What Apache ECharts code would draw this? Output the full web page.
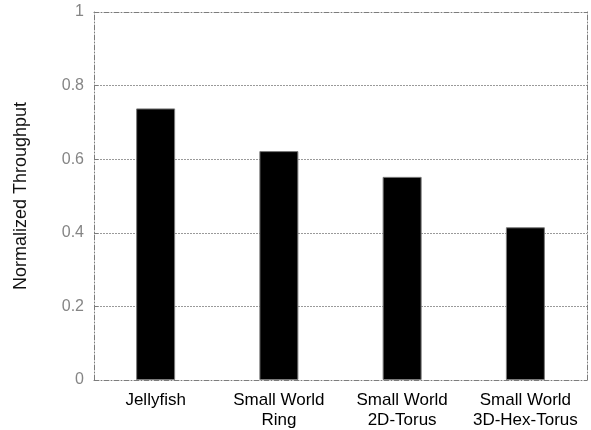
<!DOCTYPE html>
<html>
<head>
<meta charset="utf-8">
<script src="https://cdn.jsdelivr.net/npm/echarts@6/dist/echarts.min.js"></script>
<style>
  html, body { margin: 0; padding: 0; background: #fff; }
  #chart { width: 591px; height: 430px; }
</style>
</head>
<body>
<div id="chart"></div>
<script>
// Normalized throughput per topology
const categories = ['Jellyfish', 'Small World\nRing', 'Small World\n2D-Torus', 'Small World\n3D-Hex-Torus'];
const throughput = [0.738, 0.622, 0.552, 0.415];
const yTicks = { min: 0, max: 1, interval: 0.2 };

const FONT = 'Liberation Sans, Arial, Helvetica, sans-serif';
const frameStyle = { color: '#7c7c7c', width: 1, type: [5, 2, 1, 2] };

const chart = echarts.init(document.getElementById('chart'), null, { renderer: 'canvas' });
chart.setOption({
  animation: false,
  backgroundColor: '#fff',
  grid: { left: 94, right: 4, top: 12, bottom: 47, containLabel: false },
  xAxis: [
    {
      type: 'category',
      data: categories,
      position: 'bottom',
      axisLine: { show: true, lineStyle: frameStyle },
      axisTick: { show: false },
      axisLabel: {
        color: '#000', fontFamily: FONT, fontSize: 17, lineHeight: 20,
        margin: 10, interval: 0
      },
      splitLine: { show: false }
    },
    {
      type: 'category',
      data: categories,
      position: 'top',
      axisLine: { show: true, onZero: false, lineStyle: frameStyle },
      axisTick: { show: false },
      axisLabel: { show: false },
      splitLine: { show: false }
    }
  ],
  yAxis: [
    {
      type: 'value',
      min: yTicks.min, max: yTicks.max, interval: yTicks.interval,
      position: 'left',
      name: 'Normalized Throughput',
      nameLocation: 'middle',
      nameGap: 64,
      nameTextStyle: { color: '#111', fontFamily: FONT, fontSize: 18 },
      axisLine: { show: true, lineStyle: frameStyle },
      axisTick: { show: true, inside: true, length: 4, lineStyle: { color: '#7c7c7c' } },
      axisLabel: {
        color: '#858585', fontFamily: FONT, fontSize: 16, margin: 10,
        formatter: v => String(+v.toFixed(1))
      },
      splitLine: {
        show: true, showMinLine: false, showMaxLine: false,
        lineStyle: { color: '#9a9a9a', width: 1, type: [2, 1] }
      }
    },
    {
      type: 'value',
      min: yTicks.min, max: yTicks.max, interval: yTicks.interval,
      position: 'right',
      axisLine: { show: true, onZero: false, lineStyle: frameStyle },
      axisTick: { show: false },
      axisLabel: { show: false },
      splitLine: { show: false }
    }
  ],
  series: [
    {
      type: 'bar',
      data: throughput,
      barWidth: 39,
      itemStyle: { color: '#000', borderColor: '#7a7a7a', borderWidth: 1 },
      z: 3
    }
  ]
});
</script>
</body>
</html>
